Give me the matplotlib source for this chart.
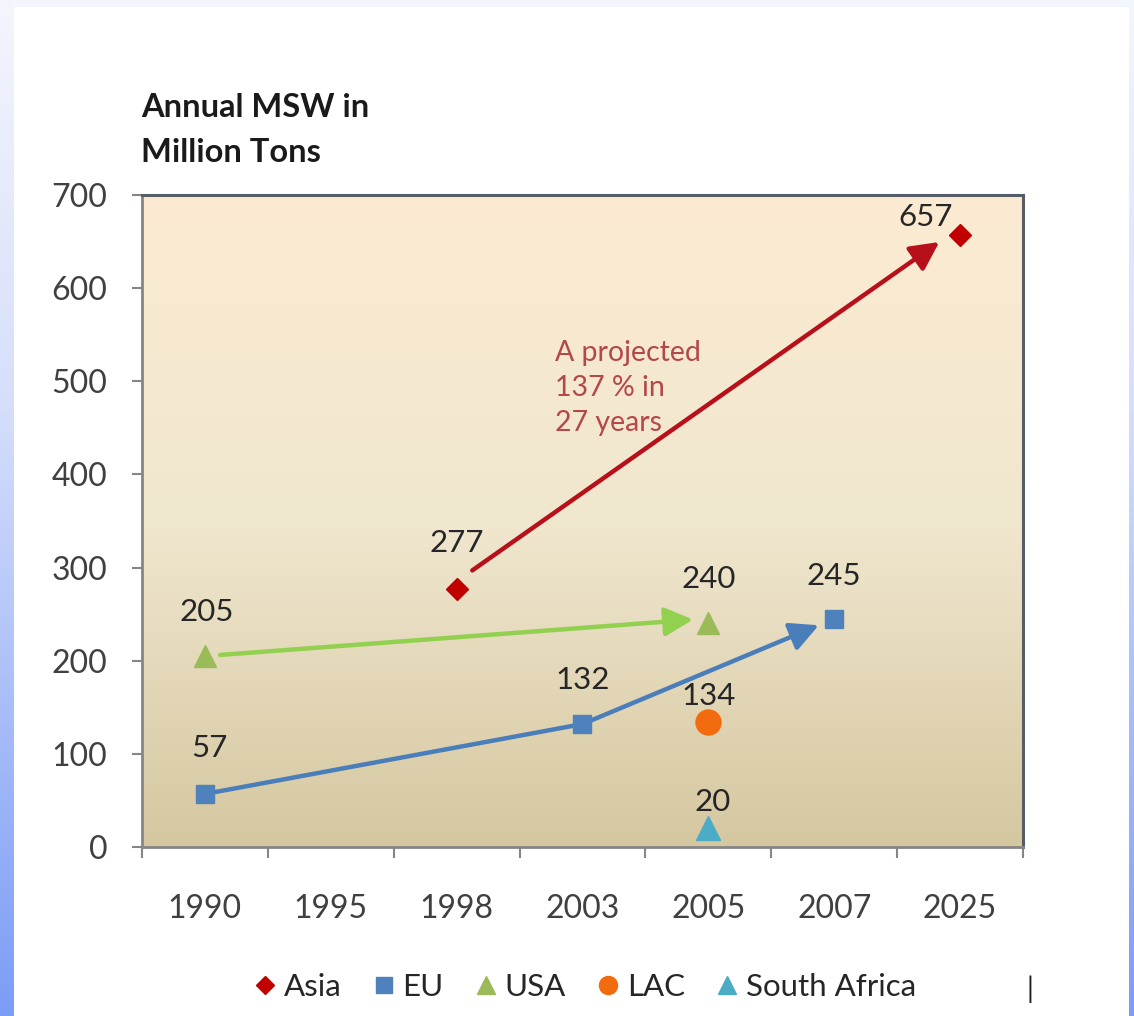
import numpy as np
import matplotlib
matplotlib.use("Agg")
import matplotlib.pyplot as plt
from matplotlib.colors import LinearSegmentedColormap
from matplotlib.lines import Line2D
from matplotlib.patches import Rectangle
from matplotlib.transforms import offset_copy

plt.rcParams['font.family'] = ['Lato', 'DejaVu Sans']

# ── dados ──────────────────────────────────────────────────────────────
years = ['1990', '1995', '1998', '2003', '2005', '2007', '2025']

asia_years = ['1998', '2025']
asia_vals = [277, 657]
eu_years = ['1990', '2003', '2007']
eu_vals = [57, 132, 245]
usa_years = ['1990', '2005']
usa_vals = [205, 240]
lac_years = ['2005']
lac_vals = [134]
sa_years = ['2005']
sa_vals = [20]

y_ticks = [0, 100, 200, 300, 400, 500, 600, 700]

# cores
C_ASIA = '#C00000'
C_EU = '#4F81BD'
C_EU_LINE = '#4A7EBB'
C_USA = '#9BBB59'
C_USA_LINE = '#92D050'
C_LAC = '#F26B0F'
C_SA = '#4BACC6'
C_TXT = '#262626'


def idx(lst):
    return [years.index(y) for y in lst]


fig = plt.figure(figsize=(11.34, 10.16), dpi=100)

# fundo (faixas azuis + painel branco)
bg = fig.add_axes([0, 0, 1, 1], zorder=-10)
bg.axis('off')
bg_cmap = LinearSegmentedColormap.from_list(
    'bg', [(0, '#F4F6FD'), (0.4, '#D5DEFB'), (1, '#7C9DF6')])
bg.imshow(np.linspace(0, 1, 256)[:, None], cmap=bg_cmap, extent=[0, 1, 0, 1],
          aspect='auto', origin='upper')
bg.add_patch(Rectangle((14 / 1134, 0), (1129 - 14) / 1134, (1016 - 7) / 1016,
                       color='white', lw=0))
bg.set_xlim(0, 1)
bg.set_ylim(0, 1)

# área do gráfico
ax = fig.add_axes([0.1252, 0.1663, 0.7769, 0.6418])
area_cmap = LinearSegmentedColormap.from_list(
    'area', [(0, '#FCEBD2'), (0.5, '#F0E7CF'), (1, '#D5C7A0')])
ax.imshow(np.linspace(0, 1, 256)[:, None], cmap=area_cmap,
          extent=[-0.5, 6.5, 0, 700], aspect='auto', origin='upper', zorder=0)
ax.set_xlim(-0.5, 6.5)
ax.set_ylim(0, 700)

for s in ('top', 'right'):
    ax.spines[s].set_color('#555D66')
    ax.spines[s].set_linewidth(2.2)
for s in ('left', 'bottom'):
    ax.spines[s].set_color('#868686')
    ax.spines[s].set_linewidth(2.0)

ax.set_yticks(y_ticks)
ax.tick_params(axis='y', length=7, width=1.5, color='#868686', pad=18,
               labelsize=23, labelcolor='#404040')
ax.set_xticks(np.arange(-0.5, 7, 1))
ax.set_xticklabels([])
ax.tick_params(axis='x', which='major', length=8, width=1.5, color='#868686')
ax.set_xticks(np.arange(len(years)), minor=True)
ax.set_xticklabels(years, minor=True)
ax.tick_params(axis='x', which='minor', length=0, pad=34,
               labelsize=23, labelcolor='#404040')

# linha EU até 2003 + setas
ex = idx(eu_years)
ax.plot(ex[:2], eu_vals[:2], color=C_EU_LINE, lw=3.2, zorder=3)
ax.annotate('', xy=(ex[2], eu_vals[2]), xytext=(ex[1], eu_vals[1]),
            arrowprops=dict(arrowstyle='-|>,head_length=0.75,head_width=0.38',
                            color=C_EU_LINE, lw=3.2, shrinkA=0, shrinkB=12,
                            mutation_scale=23), zorder=3)

ux = idx(usa_years)
ax.annotate('', xy=(ux[1], usa_vals[1]), xytext=(ux[0], usa_vals[0]),
            xycoords=offset_copy(ax.transData, fig=fig, x=0, y=5, units='dots'),
            textcoords=ax.transData,
            arrowprops=dict(arrowstyle='-|>,head_length=0.75,head_width=0.38',
                            color=C_USA_LINE, lw=3.2, shrinkA=11, shrinkB=11,
                            mutation_scale=23), zorder=3)

ax_ = idx(asia_years)
shift = offset_copy(ax.transData, fig=fig, x=2, y=9, units='dots')
ax.annotate('', xy=(ax_[1], asia_vals[1]), xytext=(ax_[0], asia_vals[0]),
            xycoords=shift, textcoords=shift,
            arrowprops=dict(arrowstyle='-|>,head_length=0.75,head_width=0.38',
                            color='#B8101A', lw=3.2, shrinkA=12, shrinkB=20,
                            mutation_scale=23), zorder=3)

# marcadores
ax.plot(ax_, asia_vals, ls='none', marker='D', ms=11, color=C_ASIA, zorder=5)
ax.plot(ex, eu_vals, ls='none', marker='s', ms=13, color=C_EU, zorder=5)
ax.plot(ux, usa_vals, ls='none', marker='^', ms=16, color=C_USA, zorder=5)
ax.plot(idx(lac_years), lac_vals, ls='none', marker='o', ms=18, color=C_LAC, zorder=5)
ax.plot(idx(sa_years), sa_vals, ls='none', marker='^', ms=17, color=C_SA, zorder=5)

# rótulos de dados (deslocamento em pontos)
rotulos = [
    (asia_years, asia_vals, [(0, 33), (-25, 13)]),
    (eu_years, eu_vals, [(3, 33), (0, 32), (0, 31)]),
    (usa_years, usa_vals, [(1, 32), (0, 32)]),
    (lac_years, lac_vals, [(0, 19)]),
    (sa_years, sa_vals, [(3, 19)]),
]
for ys, vs, offs in rotulos:
    for y, v, o in zip(ys, vs, offs):
        ax.annotate(f'{v}', xy=(years.index(y), v), xytext=o,
                    textcoords='offset points', ha='center', va='center',
                    fontsize=22.5, color=C_TXT, zorder=6)

ax.text(0.469, 0.777, 'A projected\n137 % in\n27 years', transform=ax.transAxes,
        ha='left', va='top', fontsize=20.5, color='#B4474A', linespacing=1.42,
        zorder=2)

# título do eixo
fig.text(141 / 1134, 1 - 93 / 1016, 'Annual MSW in\nMillion Tons', ha='left',
         va='top', fontsize=23.5, fontweight='bold', color='#1A1A1A',
         linespacing=1.65)

# legenda
handles = [
    Line2D([0], [0], ls='none', marker='D', ms=9, color=C_ASIA, label='Asia'),
    Line2D([0], [0], ls='none', marker='s', ms=11, color=C_EU, label='EU'),
    Line2D([0], [0], ls='none', marker='^', ms=13, color=C_USA, label='USA'),
    Line2D([0], [0], ls='none', marker='o', ms=13, color=C_LAC, label='LAC'),
    Line2D([0], [0], ls='none', marker='^', ms=13, color=C_SA, label='South Africa'),
]
fig.legend(handles=handles, loc='center', bbox_to_anchor=(584 / 1134, 1 - 987 / 1016),
           ncol=5, frameon=False, fontsize=22.5, handlelength=0.8,
           handletextpad=0.2, columnspacing=0.95, labelcolor='#262626')

fig.text(1030 / 1134, 1 - 989 / 1016, '|', ha='center', va='center',
         fontsize=20, color='#1A1A1A')

fig.savefig('out.png', dpi=100)
